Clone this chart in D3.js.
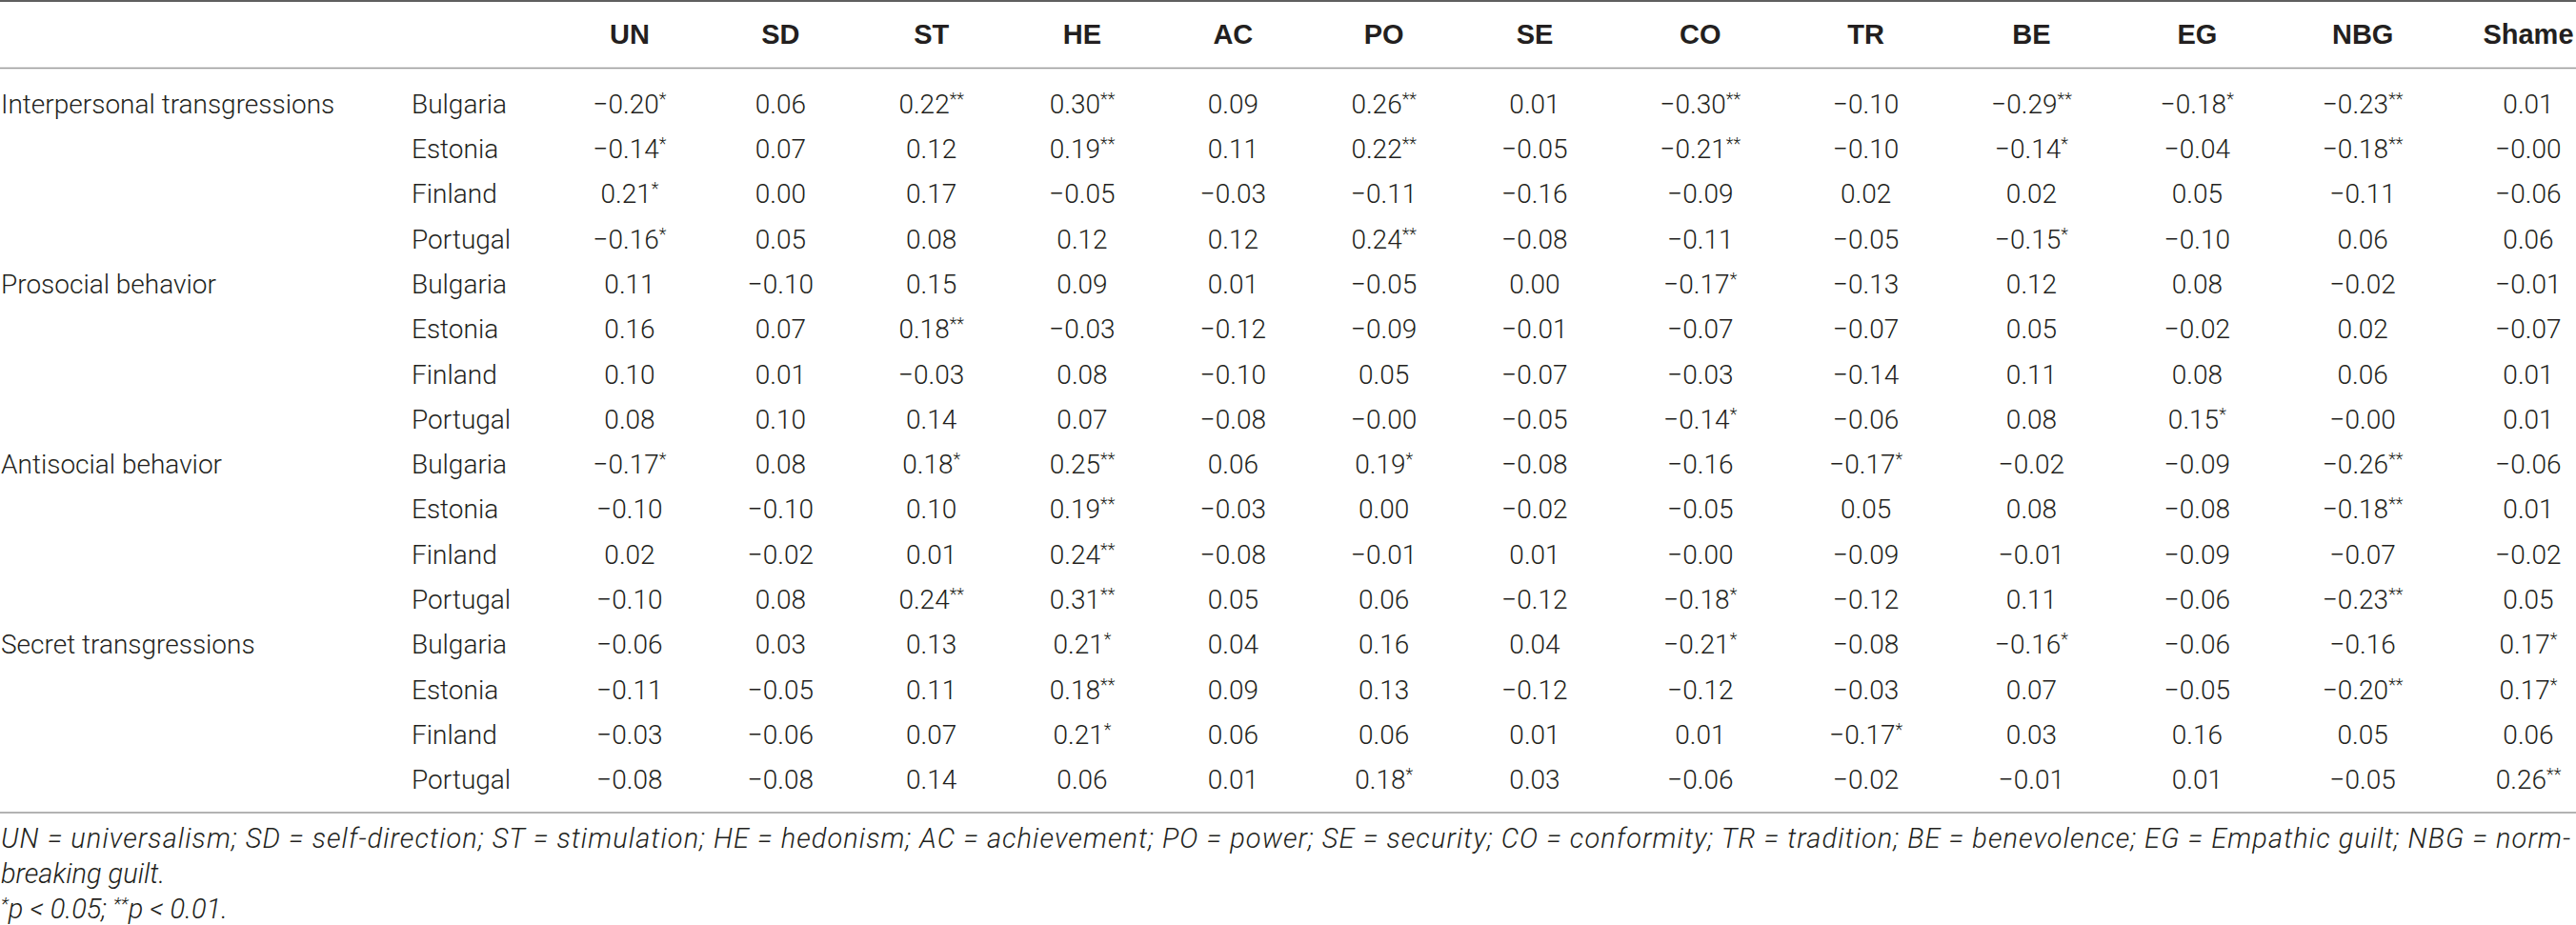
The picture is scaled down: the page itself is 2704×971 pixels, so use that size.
<!DOCTYPE html>
<html>
<head>
<meta charset="utf-8">
<script src="https://cdn.jsdelivr.net/npm/d3@7"></script>
<style>
  body { margin: 0; background: #fff; }
  text { font-family: Roboto, "Liberation Sans", Arial, sans-serif; fill: #231f20; }
</style>
</head>
<body>
<div id="table"></div>
<script>
var groups = ["Interpersonal transgressions", "Prosocial behavior", "Antisocial behavior", "Secret transgressions"];
var countries = ["Bulgaria", "Estonia", "Finland", "Portugal"];
var columns = ["UN", "SD", "ST", "HE", "AC", "PO", "SE", "CO", "TR", "BE", "EG", "NBG", "Shame"];

// one row per group x country, same order as above
var values = [
  [-0.20, 0.06, 0.22, 0.30, 0.09, 0.26, 0.01, -0.30, -0.10, -0.29, -0.18, -0.23, 0.01],
  [-0.14, 0.07, 0.12, 0.19, 0.11, 0.22, -0.05, -0.21, -0.10, -0.14, -0.04, -0.18, -0.00],
  [0.21, 0.00, 0.17, -0.05, -0.03, -0.11, -0.16, -0.09, 0.02, 0.02, 0.05, -0.11, -0.06],
  [-0.16, 0.05, 0.08, 0.12, 0.12, 0.24, -0.08, -0.11, -0.05, -0.15, -0.10, 0.06, 0.06],
  [0.11, -0.10, 0.15, 0.09, 0.01, -0.05, 0.00, -0.17, -0.13, 0.12, 0.08, -0.02, -0.01],
  [0.16, 0.07, 0.18, -0.03, -0.12, -0.09, -0.01, -0.07, -0.07, 0.05, -0.02, 0.02, -0.07],
  [0.10, 0.01, -0.03, 0.08, -0.10, 0.05, -0.07, -0.03, -0.14, 0.11, 0.08, 0.06, 0.01],
  [0.08, 0.10, 0.14, 0.07, -0.08, -0.00, -0.05, -0.14, -0.06, 0.08, 0.15, -0.00, 0.01],
  [-0.17, 0.08, 0.18, 0.25, 0.06, 0.19, -0.08, -0.16, -0.17, -0.02, -0.09, -0.26, -0.06],
  [-0.10, -0.10, 0.10, 0.19, -0.03, 0.00, -0.02, -0.05, 0.05, 0.08, -0.08, -0.18, 0.01],
  [0.02, -0.02, 0.01, 0.24, -0.08, -0.01, 0.01, -0.00, -0.09, -0.01, -0.09, -0.07, -0.02],
  [-0.10, 0.08, 0.24, 0.31, 0.05, 0.06, -0.12, -0.18, -0.12, 0.11, -0.06, -0.23, 0.05],
  [-0.06, 0.03, 0.13, 0.21, 0.04, 0.16, 0.04, -0.21, -0.08, -0.16, -0.06, -0.16, 0.17],
  [-0.11, -0.05, 0.11, 0.18, 0.09, 0.13, -0.12, -0.12, -0.03, 0.07, -0.05, -0.20, 0.17],
  [-0.03, -0.06, 0.07, 0.21, 0.06, 0.06, 0.01, 0.01, -0.17, 0.03, 0.16, 0.05, 0.06],
  [-0.08, -0.08, 0.14, 0.06, 0.01, 0.18, 0.03, -0.06, -0.02, -0.01, 0.01, -0.05, 0.26]
];

// number of stars (1: p < 0.05, 2: p < 0.01)
var stars = [
  [1, 0, 2, 2, 0, 2, 0, 2, 0, 2, 1, 2, 0],
  [1, 0, 0, 2, 0, 2, 0, 2, 0, 1, 0, 2, 0],
  [1, 0, 0, 0, 0, 0, 0, 0, 0, 0, 0, 0, 0],
  [1, 0, 0, 0, 0, 2, 0, 0, 0, 1, 0, 0, 0],
  [0, 0, 0, 0, 0, 0, 0, 1, 0, 0, 0, 0, 0],
  [0, 0, 2, 0, 0, 0, 0, 0, 0, 0, 0, 0, 0],
  [0, 0, 0, 0, 0, 0, 0, 0, 0, 0, 0, 0, 0],
  [0, 0, 0, 0, 0, 0, 0, 1, 0, 0, 1, 0, 0],
  [1, 0, 1, 2, 0, 1, 0, 0, 1, 0, 0, 2, 0],
  [0, 0, 0, 2, 0, 0, 0, 0, 0, 0, 0, 2, 0],
  [0, 0, 0, 2, 0, 0, 0, 0, 0, 0, 0, 0, 0],
  [0, 0, 2, 2, 0, 0, 0, 1, 0, 0, 0, 2, 0],
  [0, 0, 0, 1, 0, 0, 0, 1, 0, 1, 0, 0, 1],
  [0, 0, 0, 2, 0, 0, 0, 0, 0, 0, 0, 2, 1],
  [0, 0, 0, 1, 0, 0, 0, 0, 1, 0, 0, 0, 0],
  [0, 0, 0, 0, 0, 1, 0, 0, 0, 0, 0, 0, 2]
];

var notes = [
  "UN = universalism; SD = self-direction; ST = stimulation; HE = hedonism; AC = achievement; PO = power; SE = security; CO = conformity; TR = tradition; BE = benevolence; EG = Empathic guilt; NBG = norm-",
  "breaking guilt."
];

var width = 2704, height = 971;

var svg = d3.select('#table').append('svg')
  .attr('width', width)
  .attr('height', height);

// column centres: value columns get a bit wider after SE
var x = d3.scaleLinear().domain([0, 6, 12]).range([661, 1611, 2654]);
var rowCount = groups.length * countries.length;
var y = d3.scaleBand().domain(d3.range(rowCount)).range([85, 842]);

var fmt = function (v) {
  var neg = v < 0 || Object.is(v, -0);
  return (neg ? '\u2212' : '') + Math.abs(v).toFixed(2);
};

// rules
svg.append('line').attr('x1', 0).attr('x2', width).attr('y1', 1).attr('y2', 1)
  .attr('stroke', '#5f5f5f').attr('stroke-width', 2);
svg.append('line').attr('x1', 0).attr('x2', width).attr('y1', 71.5).attr('y2', 71.5)
  .attr('stroke', '#9a9a9a').attr('stroke-width', 1.6);
svg.append('line').attr('x1', 0).attr('x2', width).attr('y1', 853).attr('y2', 853)
  .attr('stroke', '#9a9a9a').attr('stroke-width', 1.6);

// header
svg.selectAll('text.head').data(columns)
  .enter().append('text')
  .attr('class', 'head')
  .attr('x', function (d, i) { return x(i); })
  .attr('y', 46)
  .attr('text-anchor', 'middle')
  .style('font-family', '"Liberation Sans", Arial, sans-serif')
  .style('font-weight', 'bold')
  .style('font-size', '29px')
  .text(function (d) { return d; });

var rowBaseline = function (i) { return y(i) + y.bandwidth() / 2 + 10; };

// group labels
svg.selectAll('text.group').data(groups)
  .enter().append('text')
  .attr('class', 'group')
  .attr('x', 1)
  .attr('y', function (d, i) { return rowBaseline(i * countries.length); })
  .style('font-size', '28px')
  .style('font-weight', 300)
  .text(function (d) { return d; });

// country labels
svg.selectAll('text.country').data(d3.range(rowCount))
  .enter().append('text')
  .attr('class', 'country')
  .attr('x', 432)
  .attr('y', function (d) { return rowBaseline(d); })
  .style('font-size', '28px')
  .style('font-weight', 300)
  .text(function (d) { return countries[d % countries.length]; });

// cells
var cells = [];
values.forEach(function (row, r) {
  row.forEach(function (v, c) {
    cells.push({ r: r, c: c, v: v, s: stars[r][c] });
  });
});

var cell = svg.selectAll('text.cell').data(cells)
  .enter().append('text')
  .attr('class', 'cell')
  .attr('x', function (d) { return x(d.c); })
  .attr('y', function (d) { return rowBaseline(d.r); })
  .attr('text-anchor', 'middle')
  .style('font-size', '28px')
  .style('font-weight', 300);

cell.append('tspan').text(function (d) { return fmt(d.v); });
cell.filter(function (d) { return d.s > 0; })
  .append('tspan')
  .attr('dy', -9)
  .style('font-size', '18px')
  .text(function (d) { return d.s === 2 ? '**' : '*'; });

// footnotes
var noteStyle = function (t) {
  t.style('font-size', '29px').style('font-style', 'italic').style('font-weight', 300);
};
svg.append('text')
  .attr('x', 1).attr('y', 890)
  .attr('textLength', 2697).attr('lengthAdjust', 'spacing')
  .call(noteStyle)
  .text(notes[0]);
svg.append('text')
  .attr('x', 1).attr('y', 927)
  .call(noteStyle)
  .text(notes[1]);

var sig = svg.append('text')
  .attr('x', 1).attr('y', 964)
  .call(noteStyle);
sig.append('tspan').attr('dy', -9).style('font-size', '19px').text('*');
sig.append('tspan').attr('dy', 9).text('p < 0.05; ');
sig.append('tspan').attr('dy', -9).style('font-size', '19px').text('**');
sig.append('tspan').attr('dy', 9).text('p < 0.01.');
</script>
</body>
</html>
